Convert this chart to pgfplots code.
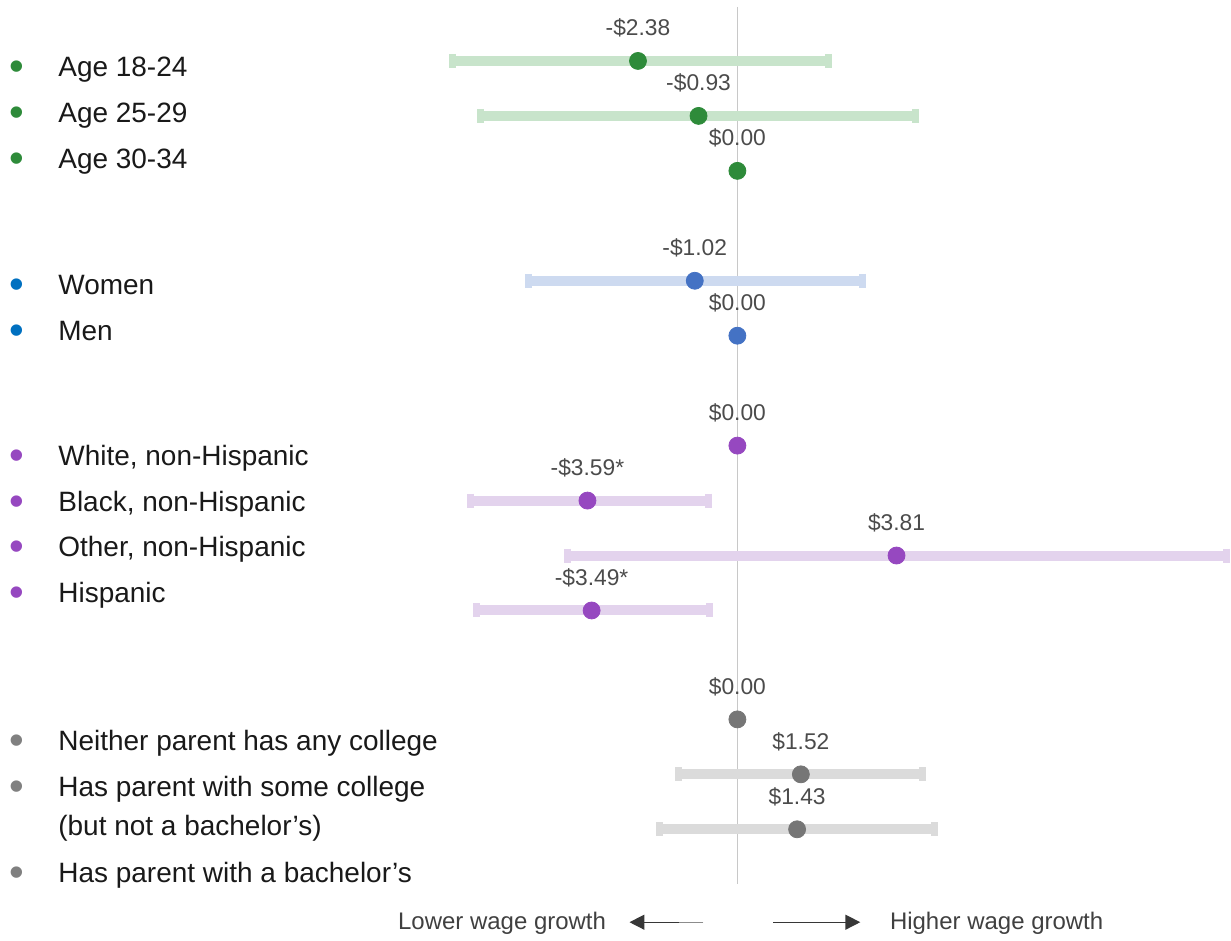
\documentclass[border=0pt]{standalone}
\usepackage{pgfplots}
\pgfplotsset{compat=1.18}
\usepackage{fontspec}
\setmainfont{Liberation Sans}
\usetikzlibrary{arrows.meta}

\definecolor{grn}{RGB}{46,139,58}
\definecolor{grnL}{RGB}{200,228,203}
\definecolor{blu}{RGB}{68,114,196}
\definecolor{bluL}{RGB}{205,218,240}
\definecolor{bluB}{RGB}{0,112,192}
\definecolor{pur}{RGB}{150,72,192}
\definecolor{purL}{RGB}{227,211,237}
\definecolor{gry}{RGB}{118,118,118}
\definecolor{gryL}{RGB}{219,219,219}
\definecolor{gryB}{RGB}{128,128,128}
\definecolor{zeroline}{RGB}{200,200,200}
\definecolor{valtext}{RGB}{75,75,75}
\definecolor{labtext}{RGB}{25,25,25}
\definecolor{arrowdark}{RGB}{55,55,55}

% 1 px of the layout = 0.5pt; x in dollars (41.8 px per dollar), y in layout rows (px, downward)
\newcommand{\labfont}{\fontsize{14}{21.5}\selectfont}
\newcommand{\valfont}{\fontsize{11.4}{13}\selectfont}
\newcommand{\bulfont}{\fontsize{21}{21}\selectfont}

% category entry: colour, bullet baseline, text baseline, text
\newcommand{\catlab}[4]{%
  \node[anchor=base, text=#1, inner sep=0] at (axis cs:-17.25,#2) {\bulfont •};
  \node[anchor=base west, text=labtext, inner sep=0, font=\labfont] at (axis cs:-16.268,#3) {#4};
}

\pgfplotsset{
  % confidence interval: low and high ends of each row, rows separated by nan
  cibar/.style={draw=#1, line width=5pt, forget plot, unbounded coords=jump,
    mark=|, mark options={draw=#1, line width=3.5pt, mark size=3.5pt}},
  dots/.style={only marks, mark=*, mark size=4.25pt, color=#1,
    mark options={draw=#1, fill=#1},
    point meta=explicit symbolic, nodes near coords,
    nodes near coords style={font=\valfont, text=valtext, anchor=base, yshift=12.5pt}},
}

\begin{document}
\begin{tikzpicture}
\begin{axis}[
  scale only axis, width=615.5pt, height=470.5pt,
  xmin=-17.656, xmax=11.794, ymin=0, ymax=941, y dir=reverse,
  hide axis, clip=false,
]
\path (rel axis cs:0,0) rectangle (rel axis cs:1,1);

% reference line at zero
\addplot[zeroline, line width=0.75pt, forget plot] coordinates {(0,7) (0,885)};

% confidence intervals
\addplot[cibar=grnL] coordinates {
  (-6.82,61) (2.17,61) (nan,nan)
  (-6.14,116) (4.27,116)
};
\addplot[cibar=bluL] coordinates {
  (-5.01,281) (2.99,281)
};
\addplot[cibar=purL] coordinates {
  (-6.39,501) (-0.69,501) (nan,nan)
  (-4.06,556) (11.70,556) (nan,nan)
  (-6.24,611) (-0.67,611)
};
\addplot[cibar=gryL] coordinates {
  (-1.40,775) (4.43,775) (nan,nan)
  (-1.87,830) (4.71,830)
};

% point estimates
\addplot[dots=grn] coordinates {
  (-2.38,61) [-\$2.38]
  (-0.93,116) [-\$0.93]
  (0,171) [\$0.00]
};
\addplot[dots=blu] coordinates {
  (-1.02,281) [-\$1.02]
  (0,336) [\$0.00]
};
\addplot[dots=pur] coordinates {
  (0,446) [\$0.00]
  (-3.59,501) [-\$3.59*]
  (3.81,556) [\$3.81]
  (-3.49,611) [-\$3.49*]
};
\addplot[dots=gry] coordinates {
  (0,720) [\$0.00]
  (1.52,775) [\$1.52]
  (1.43,830) [\$1.43]
};

% category list
\catlab{grn}{81}{77}{Age 18-24}
\catlab{grn}{127}{123}{Age 25-29}
\catlab{grn}{173}{169}{Age 30-34}
\catlab{bluB}{299}{295}{Women}
\catlab{bluB}{345}{341}{Men}
\catlab{pur}{470}{466}{White, non-Hispanic}
\catlab{pur}{516}{512}{Black, non-Hispanic}
\catlab{pur}{561}{557}{Other, non-Hispanic}
\catlab{pur}{607}{603}{Hispanic}
\catlab{gryB}{755}{751}{Neither parent has any college}
\catlab{gryB}{801}{797}{Has parent with some college}
\catlab{gryB}{887}{883}{Has parent with a bachelor’s}
\node[anchor=base west, text=labtext, inner sep=0, font=\labfont] at (axis cs:-16.268,836) {(but not a bachelor’s)};

% direction key
\node[anchor=base, text=black!75, inner sep=0, font=\fontsize{12}{14}\selectfont] at (axis cs:-5.634,930) {Lower wage growth};
\node[anchor=base, text=black!75, inner sep=0, font=\fontsize{12}{14}\selectfont] at (axis cs:6.208,930) {Higher wage growth};
\draw[black!45, line width=0.7pt] (axis cs:-0.813,923) -- (axis cs:-1.40,923);
\draw[arrowdark, line width=0.7pt, -{Triangle[length=7.5pt,width=7.5pt]}] (axis cs:-1.40,923) -- (axis cs:-2.584,923);
\draw[arrowdark, line width=0.7pt, -{Triangle[length=7.5pt,width=7.5pt]}] (axis cs:0.861,923) -- (axis cs:2.943,923);
\end{axis}
\end{tikzpicture}
\end{document}
